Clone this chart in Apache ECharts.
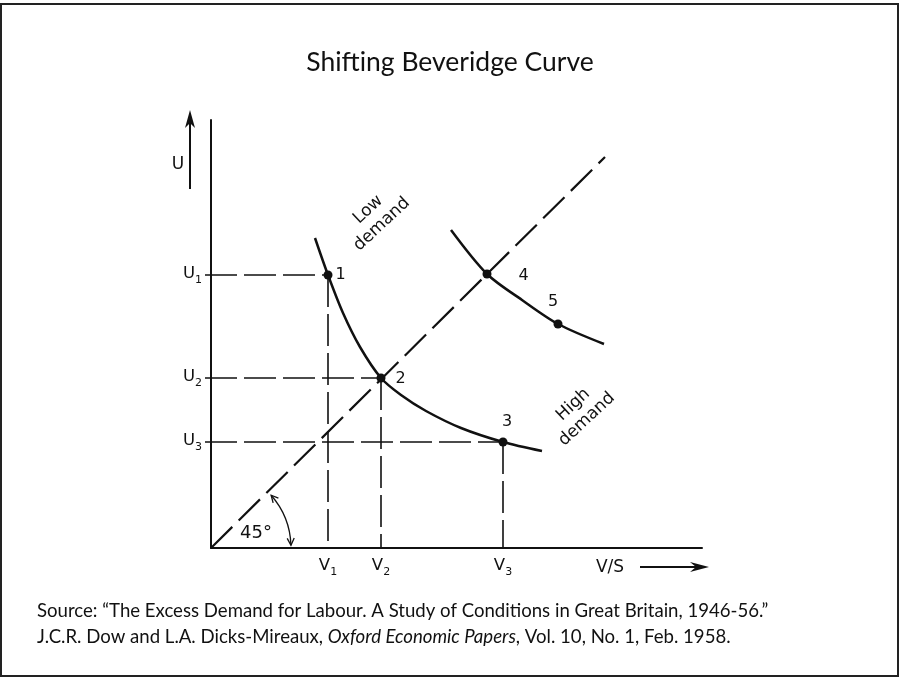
<!DOCTYPE html>
<html>
<head>
<meta charset="utf-8">
<script src="https://cdn.jsdelivr.net/npm/echarts@6/dist/echarts.min.js"></script>
<style>
  html, body { margin: 0; padding: 0; background: #fff; }
  #chart { width: 901px; height: 678px; }
</style>
</head>
<body>
<div id="chart"></div>
<script>
// axis units are the picture's pixels measured from the origin
const xMax = 491;
const yMax = 428;

// low demand curve (V/S, U)
const lowV = [104, 117, 132, 149, 170, 190, 215, 250, 292, 331];
const lowU = [310, 273, 235, 201, 170, 153, 137, 120, 106, 97];

// high demand curve
const highV = [240, 276, 311, 347, 393];
const highU = [318, 274, 248, 224, 204];

// numbered points
const pointNames = ["1", "2", "3", "4", "5"];
const pointV = [117, 170, 292, 276, 347];
const pointU = [273, 170, 106, 274, 224];

// 45 degree line
const diagV = [0, 394];
const diagU = [0, 391];

// tick labels for points 1..3
const uTickLabels = ["U1", "U2", "U3"];
const vTickLabels = ["V1", "V2", "V3"];

// curve names and where they sit
const curveNames = ["Low\ndemand", "High\ndemand"];
const curveNameV = [164, 369];
const curveNameU = [331, 136];

const ink = "#111";
const font = "DejaVu Sans";

const sub = (s) => "{m|" + s[0] + "}{s|" + s.slice(1) + "}";
const tickRich = {
  m: { fontSize: 16.5, fontFamily: font, fill: ink, padding: [0, 0, 4, 0], verticalAlign: "bottom" },
  s: { fontSize: 11, fontFamily: font, fill: ink, verticalAlign: "bottom" },
};

// guide lines from the axes to points 1..3
const guides = [];
[0, 1, 2].forEach((i) => {
  guides.push({ coords: [[-6, pointU[i]], [pointV[i], pointU[i]]] });
  guides.push({ coords: [[pointV[i], pointU[i]], [pointV[i], 0]] });
});

const labelPos = [
  { position: "right", distance: 3, offset: [0, 0] },
  { position: "right", distance: 5, offset: [5, 1] },
  { position: "top", distance: 8, offset: [4, 0] },
  { position: "right", distance: 6, offset: [21, 2] },
  { position: "top", distance: 10, offset: [-5, 0] },
];

// texts anchored on data coordinates: [v, u] plus how to draw them
const texts = [];
uTickLabels.forEach((t, i) =>
  texts.push({ at: [0, pointU[i]], dx: -9, dy: 1, align: "right", vAlign: "middle", text: sub(t), rich: tickRich })
);
vTickLabels.forEach((t, i) =>
  texts.push({ at: [pointV[i], 0], dx: 0, dy: 10, align: "center", vAlign: "top", text: sub(t), rich: tickRich })
);
curveNames.forEach((t, i) =>
  texts.push({ at: [curveNameV[i], curveNameU[i]], dx: 0, dy: 0, align: "center", vAlign: "middle", text: t, rot: 43 })
);

const chart = echarts.init(document.getElementById("chart"));

const option = {
  backgroundColor: "#fff",
  animation: false,
  grid: { left: 211, top: 120, width: 491, height: 428 },
  xAxis: {
    type: "value",
    min: 0,
    max: xMax,
    axisLine: { show: true, lineStyle: { color: ink, width: 2 } },
    axisTick: { show: false },
    axisLabel: { show: false },
    splitLine: { show: false },
  },
  yAxis: {
    type: "value",
    min: 0,
    max: yMax,
    axisLine: { show: true, lineStyle: { color: ink, width: 2 } },
    axisTick: { show: false },
    axisLabel: { show: false },
    splitLine: { show: false },
  },
  graphic: [
    {
      type: "rect",
      shape: { x: 1, y: 4, width: 897, height: 672 },
      style: { fill: null, stroke: "#222", lineWidth: 2 },
    },
    {
      type: "text",
      x: 450,
      y: 62,
      style: {
        text: "Shifting Beveridge Curve",
        font: "26.5px Lato",
        fill: "#111",
        textAlign: "center",
        textVerticalAlign: "middle",
      },
    },
    {
      type: "text",
      x: 37,
      y: 611,
      style: {
        text: "Source: \u201cThe Excess Demand for Labour. A Study of Conditions in Great Britain, 1946-56.\u201d",
        font: "18.6px Lato",
        fill: "#111",
        textVerticalAlign: "middle",
      },
    },
    {
      type: "text",
      x: 37,
      y: 637,
      style: {
        text: "J.C.R. Dow and L.A. Dicks-Mireaux, {i|Oxford Economic Papers}, Vol. 10, No. 1, Feb. 1958.",
        font: "18.6px Lato",
        fill: "#111",
        textVerticalAlign: "middle",
        rich: { i: { fontStyle: "italic", fontFamily: "Lato", fontSize: 18.6, fill: "#111" } },
      },
    },
    // U arrow
    {
      type: "line",
      shape: { x1: 190, y1: 189, x2: 190, y2: 118 },
      style: { stroke: ink, lineWidth: 2 },
    },
    {
      type: "polygon",
      shape: { points: [[190, 110], [195, 128], [190, 123], [185, 128]] },
      style: { fill: ink },
    },
    {
      type: "text",
      x: 178,
      y: 165,
      style: { text: "U", font: "17px " + font, fill: ink, textAlign: "center", textVerticalAlign: "middle" },
    },
    // V/S arrow
    {
      type: "line",
      shape: { x1: 640, y1: 567, x2: 702, y2: 567 },
      style: { stroke: ink, lineWidth: 2 },
    },
    {
      type: "polygon",
      shape: { points: [[709, 567], [690, 562], [696, 567], [690, 572]] },
      style: { fill: ink },
    },
    {
      type: "text",
      x: 610,
      y: 568,
      style: { text: "V/S", font: "17px " + font, fill: ink, textAlign: "center", textVerticalAlign: "middle" },
    },
  ],
  series: [
    {
      name: "diag",
      type: "line",
      data: diagV.map((v, i) => [v, diagU[i]]),
      symbol: "none",
      lineStyle: { color: ink, width: 2.2, type: [30, 9] },
      z: 2,
    },
    {
      name: "guides",
      type: "lines",
      coordinateSystem: "cartesian2d",
      data: guides,
      clip: false,
      lineStyle: { color: ink, width: 1.6, type: [32, 7], opacity: 1 },
      z: 2,
    },
    {
      name: "low demand",
      type: "line",
      smooth: 0.3,
      data: lowV.map((v, i) => [v, lowU[i]]),
      symbol: "none",
      lineStyle: { color: ink, width: 2.5 },
      z: 3,
    },
    {
      name: "high demand",
      type: "line",
      smooth: 0.3,
      data: highV.map((v, i) => [v, highU[i]]),
      symbol: "none",
      lineStyle: { color: ink, width: 2.5 },
      z: 3,
    },
    {
      name: "points",
      type: "scatter",
      symbolSize: 9,
      itemStyle: { color: ink, opacity: 1 },
      data: pointNames.map((n, i) => ({
        value: [pointV[i], pointU[i]],
        name: n,
        label: Object.assign({ show: true, formatter: n, fontSize: 16, fontFamily: font, color: ink }, labelPos[i]),
      })),
      z: 4,
    },
    {
      name: "texts",
      type: "custom",
      clip: false,
      silent: true,
      z: 5,
      data: texts.map((t, i) => [t.at[0], t.at[1], i]),
      renderItem: (params, api) => {
        const t = texts[api.value(2)];
        const p = api.coord([api.value(0), api.value(1)]);
        return {
          type: "text",
          x: p[0] + t.dx,
          y: p[1] + t.dy,
          rotation: ((t.rot || 0) * Math.PI) / 180,
          style: {
            text: t.text,
            rich: t.rich,
            fontSize: 17,
            fontFamily: font,
            lineHeight: 20,
            fill: ink,
            align: t.align,
            verticalAlign: t.vAlign,
          },
        };
      },
    },
    {
      name: "angle",
      type: "custom",
      data: [[0, 0]],
      clip: false,
      z: 3,
      renderItem: (params, api) => {
        const o = api.coord([0, 0]);
        const r = 80;
        const a0 = -0.72;
        const a1 = -0.035;
        const pt = (a) => [o[0] + r * Math.cos(a), o[1] + r * Math.sin(a)];
        const head = (tip, d) => {
          const n = [-d[1], d[0]];
          return [
            [tip[0] - 7 * d[0] + 3.5 * n[0], tip[1] - 7 * d[1] + 3.5 * n[1]],
            tip,
            [tip[0] - 7 * d[0] - 3.5 * n[0], tip[1] - 7 * d[1] - 3.5 * n[1]],
          ];
        };
        const top = pt(a0);
        const bot = pt(a1);
        const lw = { stroke: ink, fill: null, lineWidth: 1.3 };
        return {
          type: "group",
          children: [
            { type: "arc", shape: { cx: o[0], cy: o[1], r: r, startAngle: a0, endAngle: a1, clockwise: true }, style: lw },
            { type: "polyline", shape: { points: head(top, [Math.sin(a0), -Math.cos(a0)]) }, style: lw },
            { type: "polyline", shape: { points: head(bot, [-Math.sin(a1), Math.cos(a1)]) }, style: lw },
            {
              type: "text",
              x: o[0] + 45,
              y: o[1] - 15,
              style: { text: "45°", font: "18px " + font, fill: ink, textAlign: "center", textVerticalAlign: "middle" },
            },
          ],
        };
      },
    },
  ],
};

chart.setOption(option);
</script>
</body>
</html>
